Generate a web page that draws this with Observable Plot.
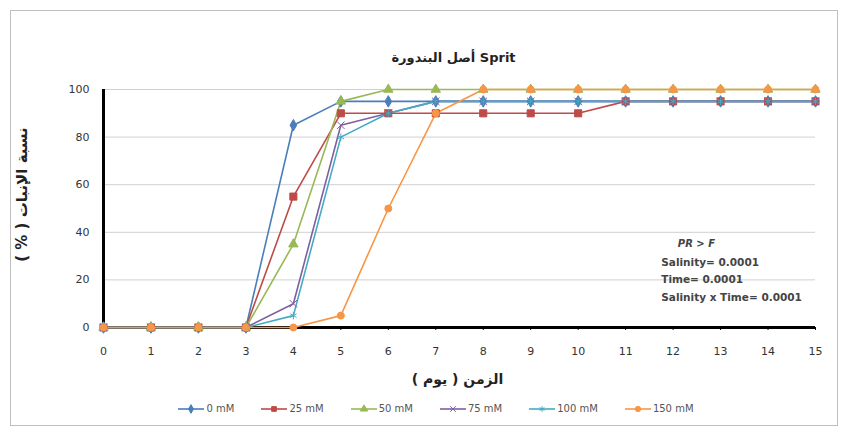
<!DOCTYPE html>
<html><head><meta charset="utf-8">
<script src="https://cdn.jsdelivr.net/npm/d3@7"></script>
<script src="https://cdn.jsdelivr.net/npm/@observablehq/plot@0.6"></script>
<style>
body{margin:0;background:#fff;font-family:"DejaVu Sans",sans-serif;}
#wrap{position:relative;width:845px;height:430px;}
#frame{position:absolute;left:10px;top:10px;width:828px;height:416px;border:1px solid #bfbfbf;box-sizing:border-box;pointer-events:none;}
#legend{position:absolute;left:0;top:403px;width:872px;display:flex;justify-content:center;gap:27px;font-size:10px;color:#555;align-items:center;}
#legend span{display:flex;align-items:center;gap:2px;}
</style></head><body>
<div id="wrap"><div id="chart"></div><div id="frame"></div><div id="legend"></div></div>
<script>
const days = [0,1,2,3,4,5,6,7,8,9,10,11,12,13,14,15];
const series = ["0 mM","25 mM","50 mM","75 mM","100 mM","150 mM"];
const v0   = [0,0,0,0,85,95,95,95,95,95,95,95,95,95,95,95];
const v25  = [0,0,0,0,55,90,90,90,90,90,90,95,95,95,95,95];
const v50  = [0,0,0,0,35,95,100,100,100,100,100,100,100,100,100,100];
const v75  = [0,0,0,0,10,85,90,95,95,95,95,95,95,95,95,95];
const v100 = [0,0,0,0,5,80,90,95,95,95,95,95,95,95,95,95];
const v150 = [0,0,0,0,0,5,50,90,100,100,100,100,100,100,100,100];
const colors = ["#4a7ebb","#be4b48","#98b954","#7d60a0","#46aac5","#f79646"];
const symbols = ["diamond","square","triangle","times","asterisk","circle"];
const yTicks = [0,20,40,60,80,100];
const title = "أصل البندورة Sprit";
const xTitle = "\u202Bالزمن ( يوم )\u202C";
const yTitle = "\u202Bنسبة الإنبات ( % )\u202C";
const notes = ["PR > F","Salinity= 0.0001","Time= 0.0001","Salinity x Time= 0.0001"];
const noteX = [12.1,11.75,11.75,11.75];
const noteY = [35.3,27.3,20.2,12.6];

const allVals = [v0,v25,v50,v75,v100,v150];
const data = [];
series.forEach((s,i)=>days.forEach((d,j)=>data.push({s,i,day:d,val:allVals[i][j]})));
const noteData = notes.map((t,k)=>({t,x:noteX[k],y:noteY[k],it:k===0}));

const marks = [
  Plot.gridY(yTicks,{stroke:"#d0d0d0",strokeOpacity:1,strokeWidth:1}),
  Plot.ruleY([0],{stroke:"#000",strokeWidth:3}),
  Plot.ruleX([0],{stroke:"#000",strokeWidth:3}),
  Plot.axisX(days,{tickSize:3,stroke:"#000",fontSize:11,fill:"#333",tickPadding:17,label:null}),
  Plot.axisY(yTicks,{tickSize:0,fontSize:11,fill:"#333",tickPadding:14,label:null}),
];
series.forEach((s,i)=>{
  const d = data.filter(r=>r.i===i);
  marks.push(Plot.line(d,{x:"day",y:"val",stroke:colors[i],strokeWidth:1.6}));
});
series.forEach((s,i)=>{
  const d = data.filter(r=>r.i===i);
  marks.push(Plot.dot(d,{x:"day",y:"val",symbol:()=>symbols[i],r:symbols[i]==="square"?4:3.5,
    fill:(symbols[i]==="times"||symbols[i]==="asterisk")?"none":colors[i],stroke:colors[i],strokeWidth:1}));
});
marks.push(Plot.text(noteData.filter(d=>!d.it),{x:"x",y:"y",text:"t",textAnchor:"start",fontSize:10.5,fontWeight:"bold",fill:"#444"}));
marks.push(Plot.text(noteData.filter(d=>d.it),{x:"x",y:"y",text:"t",textAnchor:"start",fontSize:10,fontWeight:"bold",fontStyle:"italic",fill:"#444"}));
marks.push(Plot.text([title],{frameAnchor:"top",dy:-37,dx:-6,text:d=>d,fontSize:13,fontWeight:"bold",fill:"#222"}));
marks.push(Plot.text([xTitle],{frameAnchor:"bottom",dy:56,dx:-2,text:d=>d,fontSize:14,fontWeight:"bold",fill:"#222"}));
marks.push(Plot.text([yTitle],{frameAnchor:"left",textAnchor:"middle",dx:-81,dy:-14,rotate:-90,text:d=>d,fontSize:15,fontWeight:"bold",fill:"#222"}));

const chart = Plot.plot({
  width:845,height:430,
  marginLeft:103,marginRight:30,marginTop:89,marginBottom:103,
  x:{domain:[0,15]},
  y:{domain:[0,100]},
  style:{fontFamily:"'DejaVu Sans',sans-serif",background:"#fff",overflow:"visible"},
  marks
});
document.getElementById("chart").appendChild(chart);

const leg = document.getElementById("legend");
series.forEach((s,i)=>{
  const sp = document.createElement("span");
  const sym = d3.symbol(Plot.scale({symbol:{domain:[s],range:[symbols[i]]}}).apply(s), 22)();
  const filled = !(symbols[i]==="times"||symbols[i]==="asterisk");
  sp.innerHTML = `<svg width="26" height="10"><line x1="0" y1="5" x2="26" y2="5" stroke="${colors[i]}" stroke-width="1.6"/><path transform="translate(13,5)" d="${sym}" fill="${filled?colors[i]:"none"}" stroke="${colors[i]}"/></svg>${s}`;
  leg.appendChild(sp);
});
</script>
</body></html>
